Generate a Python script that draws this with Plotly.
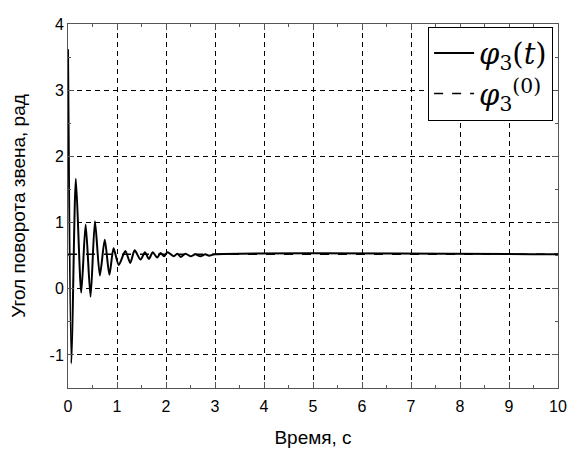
import plotly.graph_objects as go

# φ3(t) (extrema and settling)
t_vals = [0.00, 0.07, 0.16, 0.27, 0.36, 0.46, 0.55, 0.65, 0.75, 0.845, 0.93, 1.035,
          1.17, 1.27, 1.36, 1.48, 1.57, 1.65, 1.73, 1.82, 1.89, 1.96, 2.03, 2.16,
          2.23, 2.30, 2.40, 2.50, 2.60, 2.70, 2.80, 2.88, 3.00, 10.00]
phi_vals = [3.62, -1.13, 1.66, -0.06, 0.97, -0.12, 1.02, 0.20, 0.74, 0.21, 0.61, 0.36,
            0.57, 0.39, 0.58, 0.44, 0.55, 0.45, 0.55, 0.47, 0.54, 0.49, 0.55, 0.49,
            0.53, 0.48, 0.53, 0.49, 0.52, 0.49, 0.52, 0.50, 0.52, 0.52]

# φ3^(0) reference level
ref_t = [0.0, 10.0]
ref_phi = [0.52, 0.52]

x_ticks = [0, 1, 2, 3, 4, 5, 6, 7, 8, 9, 10]
x_labels = ["0", "1", "2", "3", "4", "5", "6", "7", "8", "9", "10"]
y_ticks = [-1, 0, 1, 2, 3, 4]
y_labels = ["-1", "0", "1", "2", "3", "4"]

fig = go.Figure()
fig.add_trace(go.Scatter(
    x=ref_t, y=ref_phi, mode="lines",
    line=dict(color="black", width=1.5, dash="dash"),
    name="<i>φ</i><sub>3</sub><sup>(0)</sup>", legendrank=2))
fig.add_trace(go.Scatter(
    x=t_vals, y=phi_vals, mode="lines",
    line=dict(color="black", width=2, shape="spline", smoothing=0.7),
    name="<i>φ</i><sub>3</sub>(<i>t</i>)", legendrank=1))

axis_common = dict(
    showline=True, linecolor="#555", linewidth=1, mirror="ticks",
    ticks="inside", ticklen=6, tickcolor="#555",
    showgrid=True, gridcolor="black", gridwidth=1, griddash="5px,4px",
    zeroline=False, automargin=False,
    tickfont=dict(family="Liberation Sans", size=16, color="black"),
    title_font=dict(family="Liberation Sans", size=19, color="black"),
)

fig.update_xaxes(
    range=[0, 10], tickvals=x_ticks, ticktext=x_labels, ticklabelstandoff=4,
    minor=dict(dtick=0.5, ticks="inside", ticklen=3, tickcolor="#555", showgrid=False),
    title_text="Время, с", title_standoff=16, **axis_common)
fig.update_yaxes(
    range=[-1.5, 4], tickvals=y_ticks, ticktext=y_labels,
    minor=dict(dtick=0.5, tick0=0, ticks="inside", ticklen=3, tickcolor="#555", showgrid=False),
    title_text="Угол поворота звена, рад", title_standoff=18, **axis_common)

fig.update_layout(
    width=573, height=461,
    margin=dict(l=68, r=15, t=24, b=73),
    plot_bgcolor="white", paper_bgcolor="white",
    legend=dict(
        x=0.99, y=0.993, xanchor="right", yanchor="top",
        bgcolor="white", bordercolor="black", borderwidth=1,
        font=dict(family="DejaVu Serif", size=29, color="black"),
        itemwidth=40, tracegroupgap=0,
    ),
)

fig.write_html("out.html",
               config={"displayModeBar": False},
               post_script="document.body.style.margin='0px';document.body.style.overflow='hidden';")
